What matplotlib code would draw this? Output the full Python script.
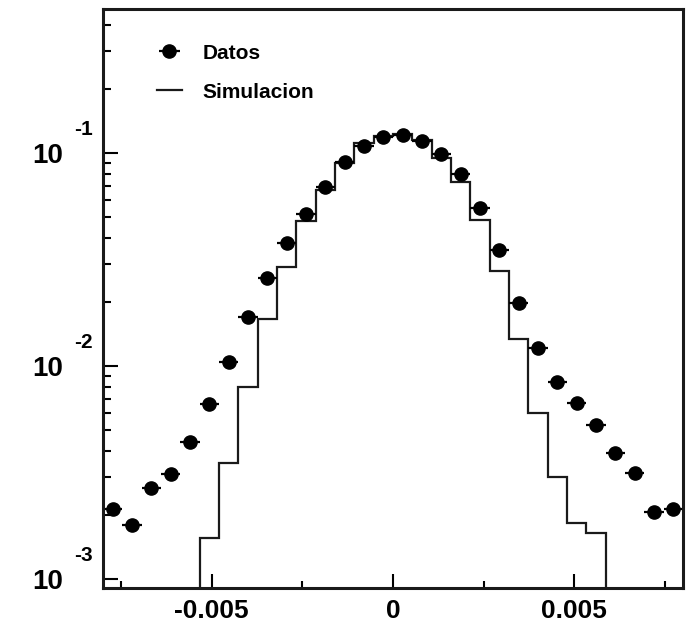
import numpy as np
import matplotlib
matplotlib.use('Agg')
from matplotlib import pyplot as plt
from matplotlib.ticker import FixedLocator, LogLocator, NullFormatter

plt.rcParams['font.family'] = ['Liberation Sans', 'DejaVu Sans']

# 30 bins between -0.008 and 0.008
edges = np.linspace(-0.008, 0.008, 31)
centers = 0.5 * (edges[1:] + edges[:-1])

datos = np.array([2.13e-3, 1.79e-3, 2.67e-3, 3.11e-3, 4.40e-3, 6.64e-3,
                  1.045e-2, 1.70e-2, 2.59e-2, 3.77e-2, 5.18e-2, 6.92e-2,
                  9.08e-2, 0.108, 0.119, 0.122, 0.114, 0.099,
                  0.0796, 0.0552, 0.0351, 0.0198, 1.216e-2, 8.41e-3,
                  6.70e-3, 5.28e-3, 3.91e-3, 3.15e-3, 2.07e-3, 2.13e-3])
simulacion = np.array([0, 0, 0, 0, 0, 1.56e-3,
                       3.51e-3, 7.96e-3, 1.665e-2, 2.92e-2, 4.8e-2, 6.7e-2,
                       8.97e-2, 0.111, 0.120, 0.123, 0.115, 0.0948,
                       0.073, 0.0484, 0.0279, 0.0134, 6.01e-3, 3.01e-3,
                       1.83e-3, 1.64e-3, 0, 0, 0, 0])
xticks = [-0.005, 0, 0.005]
xlabels = ['-0.005', '0', '0.005']
ydecades = [1e-3, 1e-2, 1e-1]
yexps = ['-3', '-2', '-1']

fig = plt.figure(figsize=(6.93, 6.24), dpi=100)
ax = fig.add_axes([103 / 693, 1 - 588 / 624, 580 / 693, 579 / 624])

# empty bins sit below the axis on a log scale
sim_plot = np.where(simulacion > 0, simulacion, 1e-9)
ax.stairs(sim_plot, edges, baseline=None, color='#1a1a1a', linewidth=1.6,
          label='Simulacion')
half = 0.5 * (edges[1] - edges[0])
ax.errorbar(centers, datos, xerr=half, fmt='o', color='black',
            markersize=9.5, elinewidth=1.6, capsize=0, label='Datos')

ax.set_yscale('log')
ax.set_xlim(-0.008, 0.008)
ax.set_ylim(9.08e-4, 0.474)

ax.xaxis.set_major_locator(FixedLocator(xticks))
ax.set_xticklabels(xlabels, fontsize=19, fontweight='bold')
ax.xaxis.set_minor_locator(FixedLocator([-0.0075, -0.0025, 0.0025, 0.0075]))
ax.yaxis.set_major_locator(FixedLocator(ydecades))
ax.set_yticklabels(['10'] * len(ydecades), fontsize=20, fontweight='bold')
ax.yaxis.set_minor_locator(LogLocator(base=10, subs=np.arange(2, 10)))
ax.yaxis.set_minor_formatter(NullFormatter())

ax.tick_params(axis='both', which='both', direction='in', width=1.5,
               top=False, right=False)
ax.tick_params(axis='x', which='major', length=10, pad=8)
ax.tick_params(axis='x', which='minor', length=5)
ax.tick_params(axis='y', which='major', length=11, pad=29)
ax.tick_params(axis='y', which='minor', length=6)

for v, e in zip(ydecades, yexps):
    ax.annotate(e, xy=(0, v), xycoords=('axes fraction', 'data'),
                xytext=(-21, 17), textcoords='offset points',
                ha='left', va='center', fontsize=15, fontweight='bold')

for s in ax.spines.values():
    s.set_linewidth(2.2)
    s.set_color('#1a1a1a')

handles, labels = ax.get_legend_handles_labels()
ax.legend(handles[::-1], labels[::-1], loc='upper left',
          bbox_to_anchor=(0.075, 0.958), frameon=False, borderpad=0,
          handlelength=1.2, handletextpad=1.0, labelspacing=0.95,
          prop={'size': 15, 'weight': 'bold'})

fig.savefig('out.png', dpi=100)
